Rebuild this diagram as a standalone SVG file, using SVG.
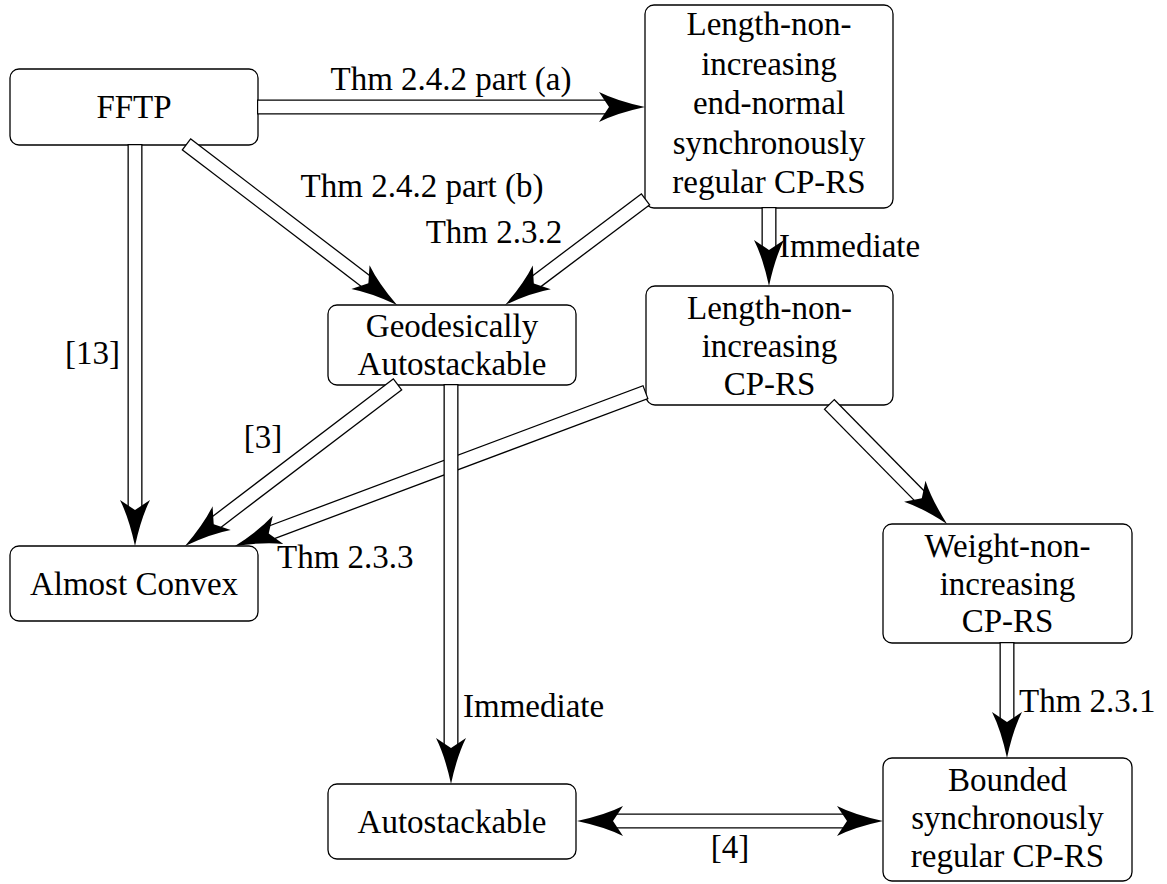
<svg xmlns="http://www.w3.org/2000/svg" width="1167" height="884" viewBox="0 0 1167 884">
<style>
.box{fill:#fff;stroke:#000;stroke-width:1.3}
text{font-family:"Liberation Serif","Times New Roman",serif;font-size:33px;fill:#000}
.c{text-anchor:middle}
.e{text-anchor:end}
.o{fill:none;stroke:#000;stroke-width:15;stroke-linecap:butt}
.i{fill:none;stroke:#fff;stroke-width:12.4;stroke-linecap:butt}
</style>
<defs>
<marker id="ah" markerUnits="userSpaceOnUse" orient="auto-start-reverse" markerWidth="60" markerHeight="40" refX="0" refY="0" style="overflow:visible">
<path d="M36,0 Q8,-6 -10,-15 L0,0 L-10,15 Q8,6 36,0 Z" fill="#000"/>
</marker>
</defs>
<rect width="1167" height="884" fill="#fff"/>

<g id="n-fftp"><rect class="box" x="10" y="69" width="248" height="76" rx="9"/><text class="c" x="134" y="118">FFTP</text></g>
<g id="n-lnien"><rect class="box" x="645" y="5" width="248" height="203" rx="9"/>
<text class="c" x="769" y="35">Length-non-</text><text class="c" x="769" y="74.5">increasing</text><text class="c" x="769" y="114">end-normal</text><text class="c" x="769" y="153.5">synchronously</text><text class="c" x="769" y="193">regular CP-RS</text></g>
<g id="n-geod"><rect class="box" x="328" y="305" width="248" height="80" rx="9"/><text class="c" x="452" y="337">Geodesically</text><text class="c" x="452" y="375">Autostackable</text></g>
<g id="n-lni"><rect class="box" x="646" y="286" width="247" height="119" rx="9"/><text class="c" x="769.5" y="319">Length-non-</text><text class="c" x="769.5" y="357">increasing</text><text class="c" x="769.5" y="395">CP-RS</text></g>
<g id="n-wni"><rect class="box" x="883" y="524" width="249" height="119" rx="9"/><text class="c" x="1007.5" y="557">Weight-non-</text><text class="c" x="1007.5" y="595">increasing</text><text class="c" x="1007.5" y="632">CP-RS</text></g>
<g id="n-ac"><rect class="box" x="10" y="546" width="248" height="75" rx="9"/><text class="c" x="134" y="595">Almost Convex</text></g>
<g id="n-auto"><rect class="box" x="328" y="784" width="248" height="75" rx="9"/><text class="c" x="452" y="833">Autostackable</text></g>
<g id="n-bsr"><rect class="box" x="883" y="758" width="249" height="123" rx="9"/><text class="c" x="1007.5" y="791">Bounded</text><text class="c" x="1007.5" y="829">synchronously</text><text class="c" x="1007.5" y="867">regular CP-RS</text></g>

<g id="connectors">
<path class="o" d="M257,107 H609"/><path class="i" d="M258.2,107 H609" marker-end="url(#ah)"/>
<path class="o" d="M135,144 V510"/><path class="i" d="M135,145.2 V510" marker-end="url(#ah)"/>
<path class="o" d="M186,144 L368.4,283.2"/><path class="i" d="M187,144.7 L368.4,283.2" marker-end="url(#ah)"/>
<path class="o" d="M646,199 L533.8,283.4"/><path class="i" d="M645,199.7 L533.8,283.4" marker-end="url(#ah)"/>
<path class="o" d="M769,207 V250"/><path class="i" d="M769,208.2 V250" marker-end="url(#ah)"/>
<path class="o" d="M398,384 L213.7,524.2"/><path class="i" d="M397,384.7 L213.7,524.2" marker-end="url(#ah)"/>
<path class="o" d="M646,392 L268.7,533.4"/><path class="i" d="M644.9,392.4 L268.7,533.4" marker-end="url(#ah)"/>
<path class="o" d="M451,384 V748"/><path class="i" d="M451,385.2 V748" marker-end="url(#ah)"/>
<path class="o" d="M829,404 L921.8,498.3"/><path class="i" d="M829.8,404.8 L921.8,498.3" marker-end="url(#ah)"/>
<path class="o" d="M1007,642 V722"/><path class="i" d="M1007,643.2 V722" marker-end="url(#ah)"/>
<path class="o" d="M613,821 H847"/><path class="i" d="M613,821 H847" marker-start="url(#ah)" marker-end="url(#ah)"/>
</g>

<g id="labels">
<text class="c" x="451" y="90">Thm 2.4.2 part (a)</text>
<text class="e" x="120" y="364">[13]</text>
<text class="c" x="422" y="197">Thm 2.4.2 part (b)</text>
<text class="c" x="494" y="243">Thm 2.3.2</text>
<text x="779" y="257">Immediate</text>
<text class="c" x="263" y="448">[3]</text>
<text x="277" y="568">Thm 2.3.3</text>
<text x="463" y="717">Immediate</text>
<text x="1019" y="712">Thm 2.3.1</text>
<text class="c" x="730" y="858">[4]</text>
</g>
</svg>
